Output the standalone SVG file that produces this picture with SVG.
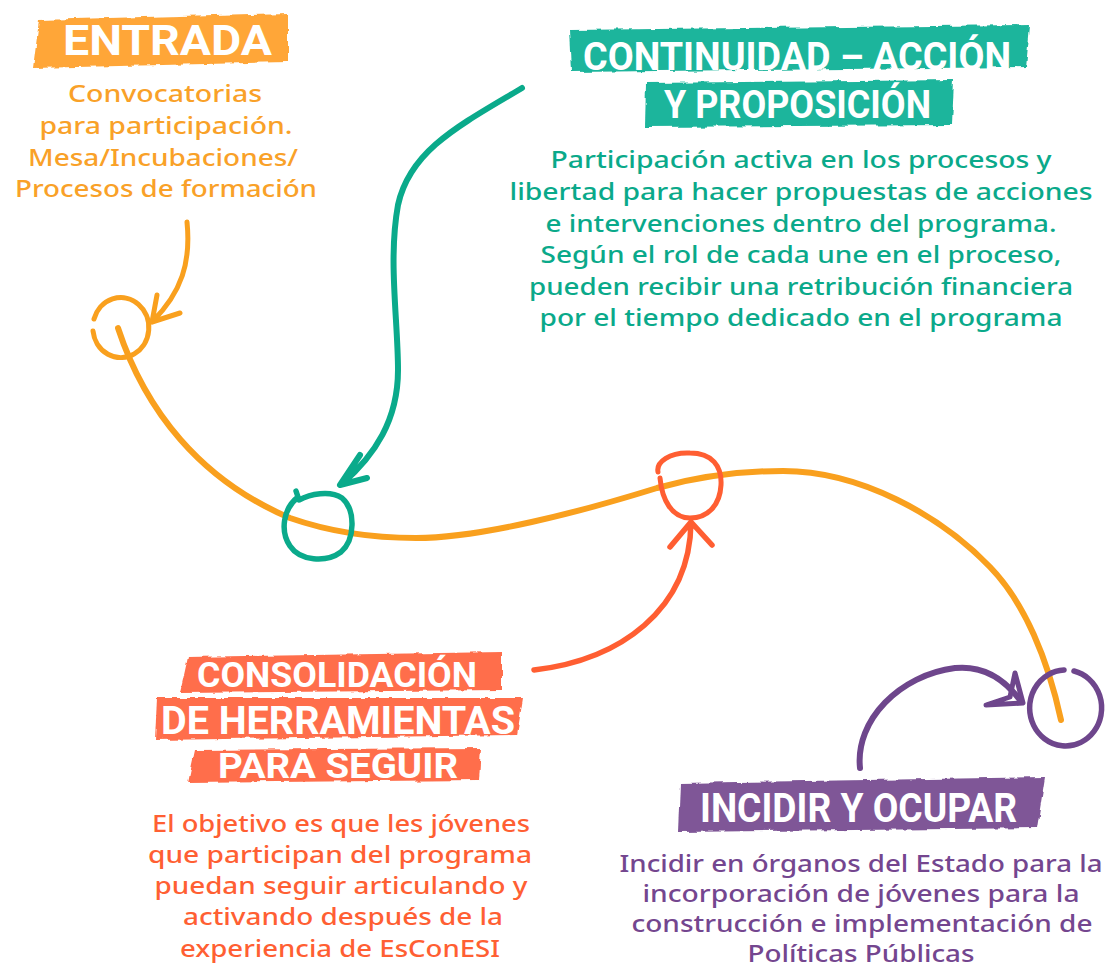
<svg xmlns="http://www.w3.org/2000/svg" width="1109" height="969" viewBox="0 0 1109 969">
<defs>
<filter id="rough" x="-5%" y="-20%" width="110%" height="140%">
<feTurbulence type="fractalNoise" baseFrequency="0.09" numOctaves="2" seed="3" result="n"/>
<feDisplacementMap in="SourceGraphic" in2="n" scale="5" xChannelSelector="R" yChannelSelector="G"/>
</filter>
<style>
.hd{font-family:Roboto,"Open Sans","Liberation Sans",sans-serif;font-weight:700;fill:#ffffff;}
.bd{font-family:"Noto Sans","Open Sans","Liberation Sans",sans-serif;font-weight:500;font-size:23px;text-anchor:middle;}
.ln{fill:none;stroke-linecap:round;stroke-linejoin:round;}
.or{fill:#F9A128;} .te{fill:#0AA98A;} .re{fill:#FF5F33;} .pu{fill:#74468F;}
</style>
</defs>
<rect width="1109" height="969" fill="#ffffff"/>

<g id="timeline">
<path class="ln" stroke="#F9A01E" stroke-width="6" d="M118,328 C145,410 200,480 290,518 C330,532 375,538 416,538 C480,538 580,512 657,488 C700,476 740,471 783,471 C860,471 940,515 990,567 C1025,603 1048,660 1061,720"/>
<path class="ln" stroke="#F9A01E" stroke-width="5" d="M94,319 A28,30 0 1 1 93,331"/>
<path class="ln" stroke="#0AAA8B" stroke-width="5.5" d="M296,491 L299,500 C310,494 330,490 342,498 C356,510 355,540 341,552 C326,563 300,561 290,546 C280,531 283,509 298,497"/>
<path class="ln" stroke="#FF5E32" stroke-width="5" d="M658,472 C656,462 670,452 690,453 C712,453 722,466 721,485 C720,505 708,518 690,518 C672,518 662,500 660,478"/>
<path class="ln" stroke="#6E468C" stroke-width="5.5" d="M1074,671 A36,38 0 1 1 1064,670"/>
</g>

<g id="connectors">
<path class="ln" stroke="#F9A01E" stroke-width="5" d="M187,222 C191,262 182,292 152,322 M157,295 L152,322 L180,313"/>
<path class="ln" stroke="#0AAA8B" stroke-width="6" d="M522,88 C460,125 410,150 398,205 C388,260 398,320 398,370 C398,420 375,455 342,484 M360,455 L340,485 L367,478"/>
<path class="ln" stroke="#FF5E32" stroke-width="5.5" d="M534,670 C620,660 690,610 691,522 M670,547 L691,522 L712,545"/>
<path class="ln" stroke="#6E468C" stroke-width="6" d="M860,768 C855,720 900,675 955,668 C985,665 1005,680 1020,700"/>
<path class="ln" stroke="#6E468C" stroke-width="5" fill="#6E468C" d="M1015,673 L1023,703 L986,705 L1010,697 Z"/>
</g>

<g id="node-entrada">
<polygon filter="url(#rough)" fill="#FFA638" points="39,20 288,13 288,62 33,68"/>
<text class="hd" x="63" y="55" font-size="42" textLength="209" lengthAdjust="spacingAndGlyphs">ENTRADA</text>
<text class="bd or" x="165" y="102" textLength="194" lengthAdjust="spacingAndGlyphs">Convocatorias</text>
<text class="bd or" x="166" y="134" textLength="253" lengthAdjust="spacingAndGlyphs">para participación.</text>
<text class="bd or" x="163" y="166" textLength="270" lengthAdjust="spacingAndGlyphs">Mesa/Incubaciones/</text>
<text class="bd or" x="166" y="197" textLength="302" lengthAdjust="spacingAndGlyphs">Procesos de formación</text>
</g>

<g id="node-continuidad">
<polygon filter="url(#rough)" fill="#1EB59C" points="570,30 1030,25 1026,67 572,72"/>
<polygon filter="url(#rough)" fill="#1EB59C" points="646,83 954,80 952,125 645,127"/>
<text class="hd" x="583" y="70" font-size="39" textLength="428" lengthAdjust="spacingAndGlyphs">CONTINUIDAD – ACCIÓN</text>
<text class="hd" x="664" y="118" font-size="38" textLength="267" lengthAdjust="spacingAndGlyphs">Y PROPOSICIÓN</text>
<text class="bd te" x="801" y="168" textLength="501" lengthAdjust="spacingAndGlyphs">Participación activa en los procesos y</text>
<text class="bd te" x="801" y="200" textLength="583" lengthAdjust="spacingAndGlyphs">libertad para hacer propuestas de acciones</text>
<text class="bd te" x="801" y="232" textLength="511" lengthAdjust="spacingAndGlyphs">e intervenciones dentro del programa.</text>
<text class="bd te" x="801" y="263" textLength="521" lengthAdjust="spacingAndGlyphs">Según el rol de cada une en el proceso,</text>
<text class="bd te" x="801" y="295" textLength="544" lengthAdjust="spacingAndGlyphs">pueden recibir una retribución financiera</text>
<text class="bd te" x="801" y="326" textLength="523" lengthAdjust="spacingAndGlyphs">por el tiempo dedicado en el programa</text>
</g>

<g id="node-consolidacion">
<polygon filter="url(#rough)" fill="#FF6E4C" points="188,657 502,652 502,690 180,693"/>
<polygon filter="url(#rough)" fill="#FF6E4C" points="157,698 523,698 517,735 155,740"/>
<polygon filter="url(#rough)" fill="#FF6E4C" points="195,750 481,748 479,780 188,783"/>
<text class="hd" x="197" y="687" font-size="35" textLength="280" lengthAdjust="spacingAndGlyphs">CONSOLIDACIÓN</text>
<text class="hd" x="161" y="734" font-size="38" textLength="354" lengthAdjust="spacingAndGlyphs">DE HERRAMIENTAS</text>
<text class="hd" x="218" y="778" font-size="35" textLength="240" lengthAdjust="spacingAndGlyphs">PARA SEGUIR</text>
<text class="bd re" x="341" y="832" textLength="378" lengthAdjust="spacingAndGlyphs">El objetivo es que les jóvenes</text>
<text class="bd re" x="340" y="863" textLength="384" lengthAdjust="spacingAndGlyphs">que participan del programa</text>
<text class="bd re" x="341" y="894" textLength="373" lengthAdjust="spacingAndGlyphs">puedan seguir articulando y</text>
<text class="bd re" x="343" y="925" textLength="320" lengthAdjust="spacingAndGlyphs">activando después de la</text>
<text class="bd re" x="340" y="957" textLength="320" lengthAdjust="spacingAndGlyphs">experiencia de EsConESI</text>
</g>

<g id="node-incidir">
<polygon filter="url(#rough)" fill="#7F5797" points="680,783 1045,777 1037,828 678,832"/>
<text class="hd" x="700" y="822" font-size="40" textLength="317" lengthAdjust="spacingAndGlyphs">INCIDIR Y OCUPAR</text>
<text class="bd pu" x="861" y="872" textLength="483" lengthAdjust="spacingAndGlyphs">Incidir en órganos del Estado para la</text>
<text class="bd pu" x="861" y="902" textLength="437" lengthAdjust="spacingAndGlyphs">incorporación de jóvenes para la</text>
<text class="bd pu" x="862" y="932" textLength="461" lengthAdjust="spacingAndGlyphs">construcción e implementación de</text>
<text class="bd pu" x="861" y="962" textLength="227" lengthAdjust="spacingAndGlyphs">Políticas Públicas</text>
</g>
</svg>
